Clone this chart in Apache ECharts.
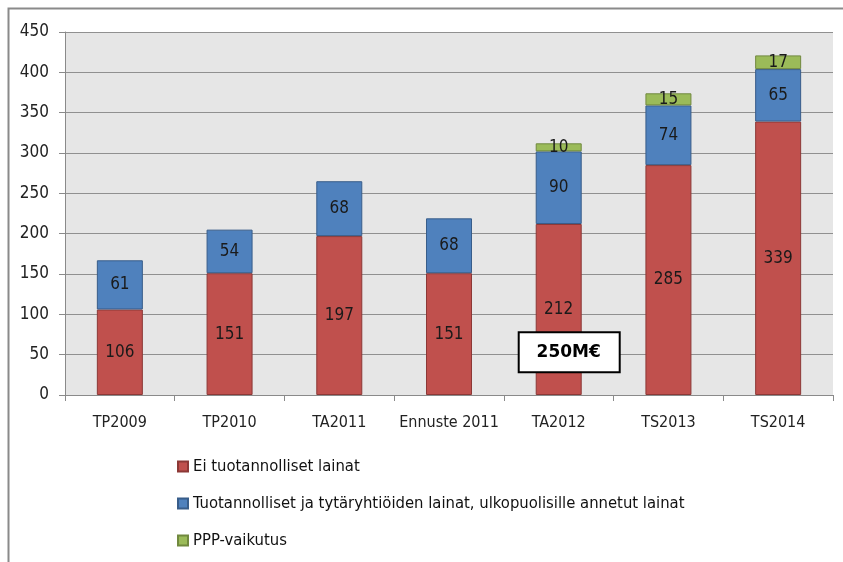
<!DOCTYPE html>
<html>
<head>
<meta charset="utf-8">
<script src="https://cdn.jsdelivr.net/npm/echarts@6/dist/echarts.min.js"></script>
<style>
  html, body { margin: 0; padding: 0; background: #fff; }
  #chart { width: 843px; height: 562px; }
</style>
</head>
<body>
<div id="chart"></div>
<script>
const categories = ['TP2009', 'TP2010', 'TA2011', 'Ennuste 2011', 'TA2012', 'TS2013', 'TS2014'];
const eiTuotannolliset = [106, 151, 197, 151, 212, 285, 339];
const tuotannolliset = [61, 54, 68, 68, 90, 74, 65];
const pppVaikutus = [null, null, null, null, 10, 15, 17];
const seriesNames = [
  'Ei tuotannolliset lainat',
  'Tuotannolliset ja tytäryhtiöiden lainat, ulkopuolisille annetut lainat',
  'PPP-vaikutus'
];
const calloutText = '250M€';
const calloutCategory = 'TA2012';
const calloutValue = 53;

const FONT = "'Liberation Sans Narrow', 'DejaVu Sans Condensed', 'Open Sans', sans-serif";

const chart = echarts.init(document.getElementById('chart'), null, { renderer: 'canvas' });

function barSeries(name, data, color, border) {
  return {
    name: name,
    type: 'bar',
    stack: 'total',
    barWidth: 46,
    data: data,
    itemStyle: { color: color, borderColor: border, borderWidth: 1 },
    label: {
      show: true,
      position: 'inside',
      color: '#1a1a1a',
      fontFamily: FONT,
      fontSize: 17
    }
  };
}

chart.setOption({
  animation: false,
  textStyle: { fontFamily: FONT },
  grid: {
    left: 65, top: 32, right: 10, bottom: 167,
    show: true, backgroundColor: '#e6e6e6', borderWidth: 0
  },
  legend: {
    orient: 'vertical',
    left: 172,
    top: 453,
    itemWidth: 10,
    itemHeight: 10,
    itemGap: 20,
    icon: 'rect',
    textStyle: { fontFamily: FONT, fontSize: 16.5, color: '#111' },
    data: seriesNames
  },
  xAxis: {
    type: 'category',
    data: categories,
    axisLine: { lineStyle: { color: '#8a8a8a', width: 1 } },
    axisTick: { show: true, length: 6, lineStyle: { color: '#8a8a8a' } },
    axisLabel: { color: '#222', fontSize: 16, margin: 20, fontFamily: FONT, interval: 0 }
  },
  yAxis: {
    type: 'value',
    min: 0, max: 450, interval: 50,
    axisLine: { show: true, lineStyle: { color: '#8a8a8a', width: 1 } },
    axisTick: { show: true, length: 6, lineStyle: { color: '#8a8a8a' } },
    axisLabel: { color: '#222', fontSize: 17, margin: 16, fontFamily: FONT },
    splitLine: { lineStyle: { color: '#909090', width: 1 } }
  },
  series: [
    barSeries(seriesNames[0], eiTuotannolliset, '#c0504d', '#8c3836'),
    barSeries(seriesNames[1], tuotannolliset, '#4f81bd', '#385d8a'),
    barSeries(seriesNames[2], pppVaikutus, '#9bbb59', '#71893f')
  ]
});

// Frame around the whole chart and the callout box, positioned from the axes
const anchor = chart.convertToPixel({ gridIndex: 0 }, [calloutCategory, calloutValue]);
chart.setOption({
  graphic: [
    {
      type: 'rect',
      shape: { x: 8.5, y: 8.5, width: 900, height: 600 },
      style: { fill: 'none', stroke: '#8a8a8a', lineWidth: 2 },
      silent: true,
      z: 10
    },
    {
      type: 'rect',
      shape: { x: anchor[0] - 40, y: anchor[1] - 20, width: 101, height: 40 },
      style: { fill: '#ffffff', stroke: '#000000', lineWidth: 2 },
      z: 100
    },
    {
      type: 'text',
      x: anchor[0] + 10,
      y: anchor[1],
      z: 101,
      style: {
        text: calloutText,
        align: 'center',
        verticalAlign: 'middle',
        fontSize: 17,
        fontWeight: 'bold',
        fontFamily: "'DejaVu Sans', sans-serif",
        fill: '#000000'
      }
    }
  ]
});
</script>
</body>
</html>
